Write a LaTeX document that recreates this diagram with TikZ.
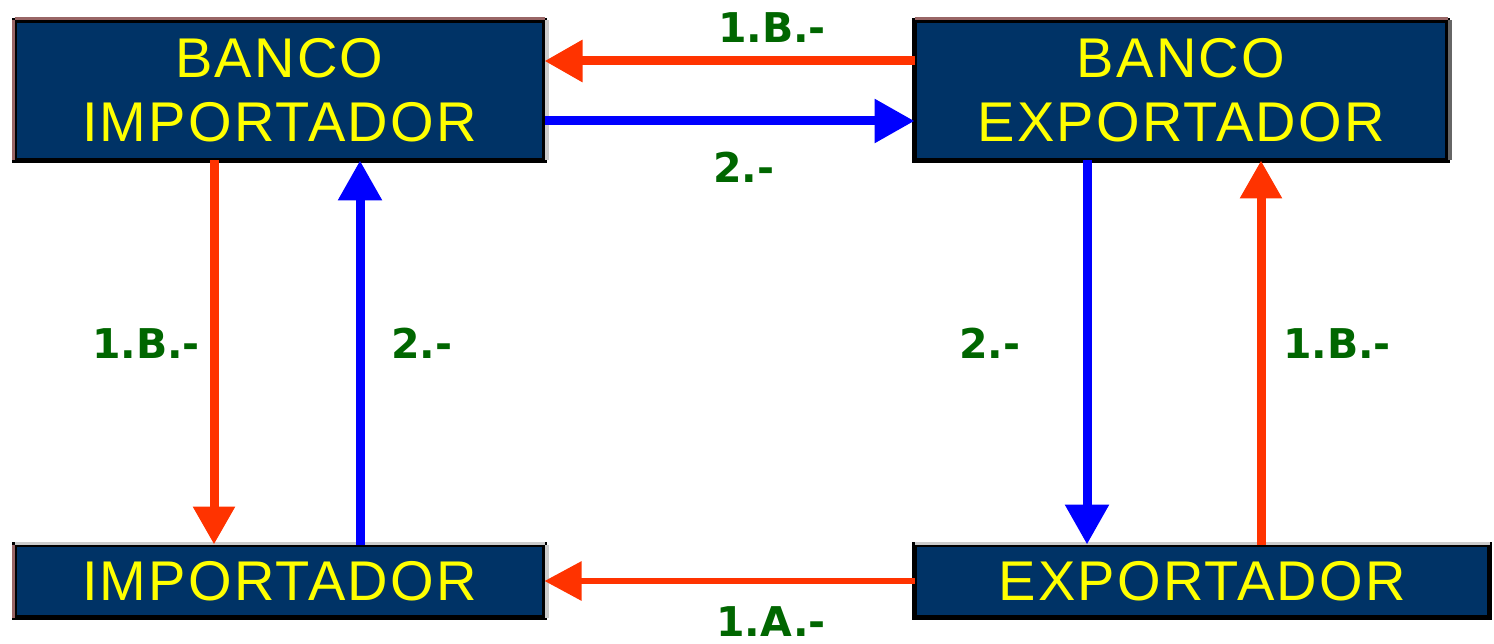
\documentclass[tikz,border=0pt]{standalone}
\usepackage{fontspec}
\usetikzlibrary{arrows.meta}
\newfontfamily\boxfont[LetterSpace=4]{Liberation Sans}
\newfontfamily\lblfont{DejaVu Sans}
\definecolor{navy}{HTML}{003366}
\definecolor{ylw}{HTML}{FFFF00}
\definecolor{lblgreen}{HTML}{006600}
\definecolor{redar}{HTML}{FF3300}
\definecolor{bluear}{HTML}{0000FF}
\definecolor{brownedge}{HTML}{996666}
\definecolor{shadowgray}{HTML}{CCCCCC}
\begin{document}
\begin{tikzpicture}[x=1pt,y=-1pt,
  bank/.style={draw=black,line width=5pt,fill=navy,text=ylw,inner sep=0pt,outer sep=0pt,
    align=center,font=\boxfont\fontsize{56}{64}\selectfont},
  lbl/.style={text=lblgreen,inner sep=0pt,anchor=base,font=\lblfont\bfseries\fontsize{41}{41}\selectfont},
  redarrow/.style={draw=redar,line width=9pt,-{Triangle[length=38pt,width=40pt]}},
  bluearrow/.style={draw=bluear,line width=9pt,-{Triangle[length=40pt,width=42pt]}},
  redthin/.style={draw=redar,line width=6pt,-{Triangle[length=37pt,width=38pt]}},
]
\useasboundingbox (0,0) rectangle (1494,644);

% boxes
\node[bank,minimum width=530pt,minimum height=140pt] (BI) at (279.5,90.5) {BANCO\\IMPORTADOR};
\node[bank,minimum width=533pt,minimum height=140pt] (BE) at (1181,90.5) {BANCO\\EXPORTADOR};
\node[bank,minimum width=530pt,minimum height=73pt] (I) at (279.5,581) {IMPORTADOR};
\node[bank,minimum width=575pt,minimum height=73pt] (E) at (1202,581) {EXPORTADOR};

% edge details
\draw[brownedge,line width=3pt] ([yshift=1.5pt]BI.north west) -- ([yshift=1.5pt]BI.north east);
\draw[brownedge,line width=3pt] ([yshift=1.5pt]BE.north west) -- ([yshift=1.5pt]BE.north east);
\draw[brownedge,line width=3pt] ([xshift=-1.5pt]BI.north west) -- ([xshift=-1.5pt]BI.south west);
\draw[brownedge,line width=3pt] ([xshift=-1.5pt]I.north west) -- ([xshift=-1.5pt]I.south west);
\draw[shadowgray,line width=4pt] ([xshift=2pt]BI.north east) -- ([xshift=2pt]BI.south east);
\draw[shadowgray!50!black,line width=4pt] ([xshift=2pt]BE.north east) -- ([xshift=2pt]BE.south east);
\draw[shadowgray,line width=3pt] ([yshift=1.5pt]I.north west) -- ([yshift=1.5pt]I.north east);
\draw[shadowgray,line width=3pt] ([yshift=1.5pt]E.north west) -- ([yshift=1.5pt]E.north east);
\draw[shadowgray,line width=4pt] ([xshift=2pt]I.north east) -- ([xshift=2pt]I.south east);

% connectors
\draw[redarrow] ([yshift=29.5pt]BE.west) -- ([yshift=29.5pt]BI.east);
\draw[bluearrow] ([yshift=-30.5pt]BI.east) -- ([yshift=-30.5pt]BE.west);
\draw[redarrow] ([xshift=-65.5pt]BI.south) -- ([xshift=-65.5pt]I.north);
\draw[bluearrow] ([xshift=80.5pt]I.north) -- ([xshift=80.5pt]BI.south);
\draw[bluearrow] ([xshift=-94pt]BE.south) -- ([xshift=-115pt]E.north);
\draw[redarrow] ([xshift=59pt]E.north) -- ([xshift=80pt]BE.south);
\draw[redthin] (E.west) -- (I.east);

% labels
\node[lbl] (l1) at (772,43) {1.B.-};
\node[lbl] (l2) at (744,183) {2.-};
\node[lbl] (l3) at (146,358) {1.B.-};
\node[lbl] (l4) at (422,358) {2.-};
\node[lbl] (l5) at (990,358) {2.-};
\node[lbl] (l6) at (1337,358) {1.B.-};
\node[lbl] (l7) at (771,636) {1.A.-};
\end{tikzpicture}
\end{document}
